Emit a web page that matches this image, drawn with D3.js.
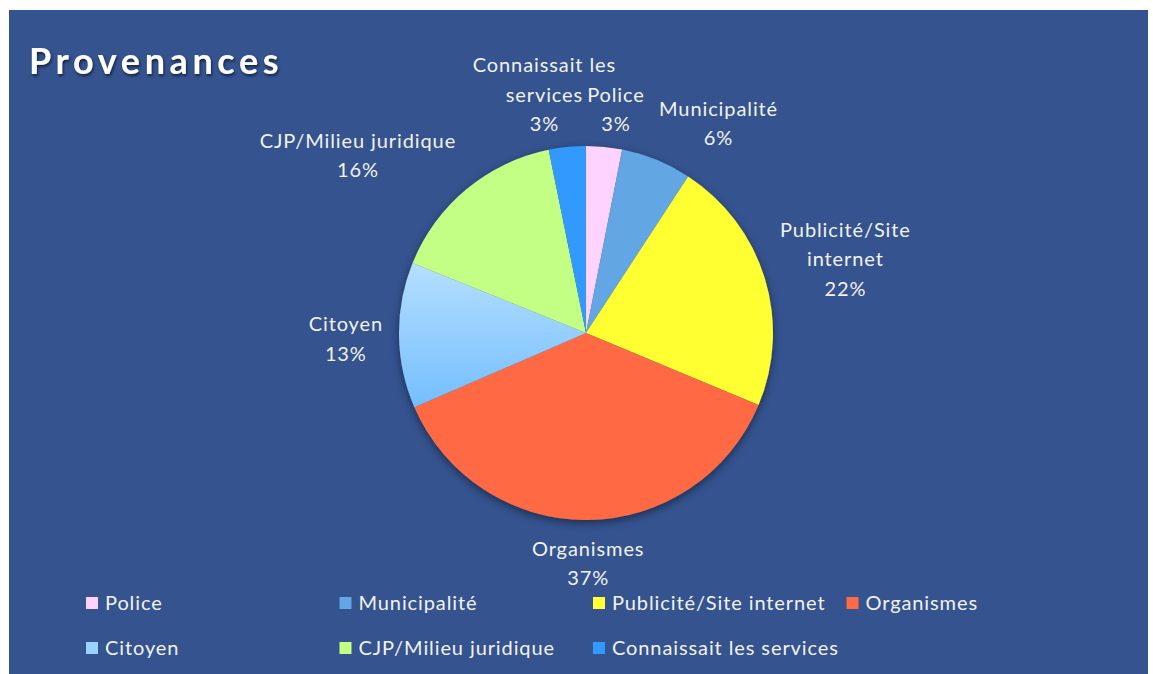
<!DOCTYPE html>
<meta charset="utf-8">
<script src="https://d3js.org/d3.v7.min.js"></script>
<style>
  body { margin: 0; background: #fff; }
  text { font-family: Lato, "Liberation Sans", sans-serif; }
</style>
<div id="vis"></div>
<script>

    // data
    var categories = ["Police", "Municipalité", "Publicité/Site internet", "Organismes",
        "Citoyen", "CJP/Milieu juridique", "Connaissait les services"];
    var values = [3.1, 6.1, 22.1, 37.2, 12.6, 15.7, 3.2];
    var labelLines = [["Police"], ["Municipalité"], ["Publicité/Site", "internet"], ["Organismes"],
        ["Citoyen"], ["CJP/Milieu juridique"], ["Connaissait les", "services"]];
    var colors = ["#FFD3FF", "#62A6E4", "#FFFF33", "#FF6B45", "url(#citoyenGrad)", "#C4FF85", "#3399FF"];
    var legendColors = ["#FFD3FF", "#62A6E4", "#FFFF33", "#FF6B45", "#9AD2FF", "#C4FF85", "#3399FF"];

    var W = 1153, H = 674;
    var cx = 586, cy = 333, r = 187;
    var lineH = 29.5;
    var fs = 20, ls = 0.9;

    var svg = d3.select("#vis").append("svg")
        .attr("width", W)
        .attr("height", H);

    var defs = svg.append("defs");
    var grad = defs.append("linearGradient")
        .attr("id", "citoyenGrad")
        .attr("x1", 0).attr("y1", 0).attr("x2", 0).attr("y2", 1);
    grad.append("stop").attr("offset", "0%").attr("stop-color", "#B5DFFF");
    grad.append("stop").attr("offset", "100%").attr("stop-color", "#74BEFF");

    var shadow = defs.append("filter").attr("id", "pieShadow")
        .attr("x", "-20%").attr("y", "-20%").attr("width", "140%").attr("height", "140%");
    shadow.append("feDropShadow").attr("dx", 0).attr("dy", 3).attr("stdDeviation", 4)
        .attr("flood-color", "#000").attr("flood-opacity", 0.45);

    var tshadow = defs.append("filter").attr("id", "titleShadow");
    tshadow.append("feDropShadow").attr("dx", 1).attr("dy", 2).attr("stdDeviation", 1.5)
        .attr("flood-color", "#000").attr("flood-opacity", 0.6);

    // background panel
    svg.append("rect")
        .attr("x", 9).attr("y", 10)
        .attr("width", 1139).attr("height", H - 10)
        .attr("fill", "#34538F");

    // title
    svg.append("text")
        .attr("x", 29).attr("y", 74)
        .attr("fill", "#fff")
        .attr("font-size", 36)
        .attr("font-weight", "bold")
        .attr("letter-spacing", 4.6)
        .attr("filter", "url(#titleShadow)")
        .text("Provenances");

    var data = categories.map(function (c, i) {
        return { name: c, value: values[i], lines: labelLines[i], color: colors[i], lc: legendColors[i] };
    });
    var total = d3.sum(values);

    var pie = d3.pie().sort(null).value(function (d) { return d.value; });
    var arc = d3.arc().innerRadius(0).outerRadius(r);
    var arcs = pie(data);

    var g = svg.append("g").attr("transform", "translate(" + cx + "," + cy + ")");

    g.append("g").attr("filter", "url(#pieShadow)")
        .selectAll("path")
        .data(arcs)
        .enter()
        .append("path")
        .attr("d", arc)
        .attr("fill", function (d) { return d.data.color; });

    // labels: box placed outside the slice along its mid angle
    var measure = svg.append("text").attr("font-size", fs).attr("letter-spacing", ls).attr("opacity", 0);
    var labels = arcs.map(function (d) {
        var lines = d.data.lines.concat([Math.round(d.data.value / total * 100) + "%"]);
        var widths = lines.map(function (l) { measure.text(l); return measure.node().getComputedTextLength(); });
        var w = d3.max(widths), h = lines.length * lineH;
        var a = (d.startAngle + d.endAngle) / 2;
        var ax = Math.sin(a) * (r + 16), ay = -Math.cos(a) * (r + 16);
        var kx = Math.max(-1, Math.min(1, Math.sin(a) * 2.5));
        var ky = Math.max(-1, Math.min(1, Math.cos(a) * 1.5));
        return { lines: lines, widths: widths, x: ax + kx * w / 2, y: ay - ky * (h / 2 - 5) + 3, h: h };
    });
    measure.remove();

    // push overlapping lines apart sideways
    for (var it = 0; it < 30; it++) {
        for (var i = 0; i < labels.length; i++) {
            for (var j = i + 1; j < labels.length; j++) {
                var A = labels[i], B = labels[j];
                A.lines.forEach(function (la, ia) {
                    var ya = A.y - A.h / 2 + (ia + 0.5) * lineH;
                    B.lines.forEach(function (lb, ib) {
                        var yb = B.y - B.h / 2 + (ib + 0.5) * lineH;
                        if (Math.abs(ya - yb) > lineH * 0.8) return;
                        var l1 = A.x - A.widths[ia] / 2, r1 = A.x + A.widths[ia] / 2;
                        var l2 = B.x - B.widths[ib] / 2, r2 = B.x + B.widths[ib] / 2;
                        var ov = Math.min(r1, r2) - Math.max(l1, l2) + 4;
                        if (ov > 0) {
                            var s = A.x < B.x ? -1 : 1;
                            A.x += s * ov / 2; B.x -= s * ov / 2;
                        }
                    });
                });
            }
        }
    }

    var lg = g.selectAll(".lbl")
        .data(labels)
        .enter()
        .append("text")
        .attr("class", "lbl")
        .attr("text-anchor", "middle")
        .attr("font-size", fs)
        .attr("letter-spacing", ls)
        .attr("fill", "#F2F2F2");
    lg.each(function (d) {
        var t = d3.select(this);
        d.lines.forEach(function (l, k) {
            t.append("tspan")
                .attr("x", d.x)
                .attr("y", d.y - d.h / 2 + (k + 0.5) * lineH)
                .attr("dy", "0.35em")
                .text(l);
        });
    });

    // legend
    var legX = d3.scaleLinear().domain([0, 1]).range([86, 339.5]);
    var legY = d3.scaleLinear().domain([0, 1]).range([603, 648]);
    var leg = svg.selectAll(".leg")
        .data(data)
        .enter()
        .append("g")
        .attr("class", "leg")
        .attr("transform", function (d, i) {
            return "translate(" + legX(i % 4) + "," + legY(Math.floor(i / 4)) + ")";
        });
    leg.append("rect")
        .attr("x", 0).attr("y", -6)
        .attr("width", 12).attr("height", 12)
        .attr("fill", function (d) { return d.lc; });
    leg.append("text")
        .attr("x", 19).attr("dy", "0.35em")
        .attr("font-size", fs)
        .attr("letter-spacing", ls)
        .attr("fill", "#F2F2F2")
        .text(function (d) { return d.name; });

</script>
